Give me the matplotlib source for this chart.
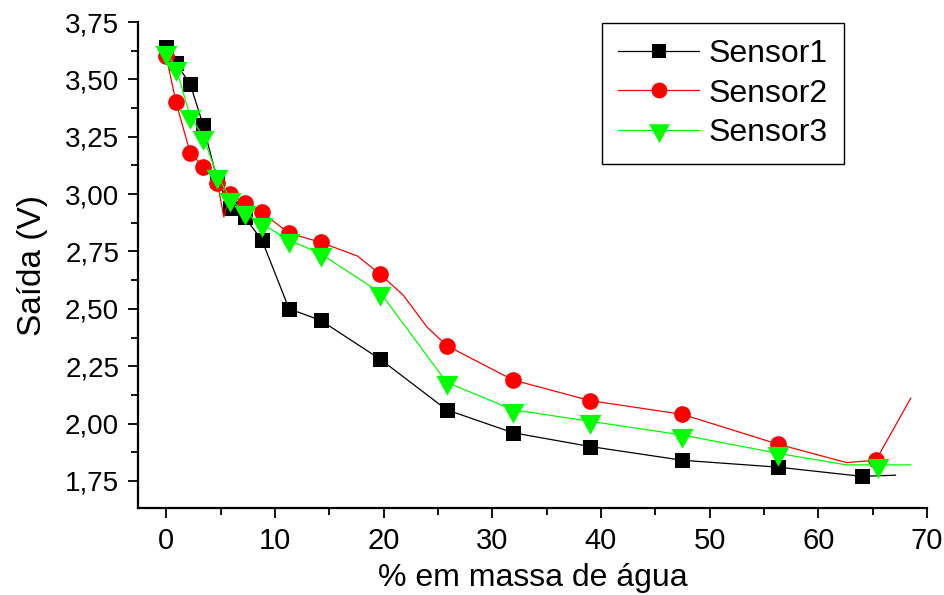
import numpy as np
import matplotlib
matplotlib.use("Agg")
import matplotlib.pyplot as plt
from matplotlib.path import Path
from matplotlib.ticker import FixedLocator, FuncFormatter

# ---- data ----
x_common = [0, 0.9, 2.2, 3.4, 4.7, 5.9, 7.2, 8.8, 11.3, 14.2, 19.7, 25.8, 31.9, 39.0, 47.5, 56.3]

s1_x = x_common + [64.0]
s1_y = [3.64, 3.57, 3.48, 3.30, 3.06, 2.94, 2.90, 2.80, 2.50, 2.45, 2.28, 2.06, 1.96, 1.90, 1.84, 1.81, 1.77]
s1_extra_x = [67.1]
s1_extra_y = [1.775]

s2_x = x_common + [65.3]
s2_y = [3.60, 3.40, 3.18, 3.12, 3.05, 3.00, 2.96, 2.92, 2.83, 2.79, 2.65, 2.34, 2.19, 2.10, 2.04, 1.91, 1.84]
s2_extra_x = [5.3, 17.6, 21.8, 24.0, 62.6, 68.5]
s2_extra_y = [2.90, 2.73, 2.56, 2.42, 1.83, 2.11]

s3_x = x_common + [65.5]
s3_y = [3.62, 3.55, 3.34, 3.25, 3.08, 2.98, 2.92, 2.87, 2.80, 2.74, 2.57, 2.18, 2.06, 2.01, 1.95, 1.87, 1.82]
s3_extra_x = [62.6, 68.5]
s3_extra_y = [1.82, 1.82]

labels = ["Sensor1", "Sensor2", "Sensor3"]
x_ticks = [0, 10, 20, 30, 40, 50, 60, 70]
y_ticks = [1.75, 2.00, 2.25, 2.50, 2.75, 3.00, 3.25, 3.50, 3.75]


def line_of(xm, ym, xe, ye):
    xs = np.array(list(xm) + list(xe), dtype=float)
    ys = np.array(list(ym) + list(ye), dtype=float)
    order = np.argsort(xs, kind="stable")
    return xs[order], ys[order]


# triangle pointing down, centred on its centroid
tri_down = Path([(-1, 0.6), (1, 0.6), (0, -1.2), (-1, 0.6)],
                [Path.MOVETO, Path.LINETO, Path.LINETO, Path.CLOSEPOLY])

plt.rcParams['font.family'] = ['Liberation Sans', 'DejaVu Sans']

fig = plt.figure(figsize=(9.44, 5.95), dpi=100)
ax = fig.add_axes([138 / 944, 1 - 508 / 595, (927 - 138) / 944, (508 - 22) / 595])

series = [
    (s1_x, s1_y, s1_extra_x, s1_extra_y, "black", "s", 10.8, labels[0]),
    (s2_x, s2_y, s2_extra_x, s2_extra_y, "#ff0000", "o", 12, labels[1]),
    (s3_x, s3_y, s3_extra_x, s3_extra_y, "#00ff00", tri_down, 19, labels[2]),
]

handles = []
for i, (xm, ym, xe, ye, col, mk, ms, lab) in enumerate(series):
    lx, ly = line_of(xm, ym, xe, ye)
    ax.plot(lx, ly, color=col, lw=0.9, zorder=2 + i * 2)
    ax.plot(xm, ym, linestyle="none", marker=mk, markersize=ms, color=col,
            markeredgewidth=0, zorder=3 + i * 2)
    h, = ax.plot([], [], color=col, lw=0.9, marker=mk, markersize=ms * 0.95,
                 markeredgewidth=0, label=lab)
    handles.append(h)

ax.set_xlim(-2.6, 70)
ax.set_ylim(1.632, 3.75)

ax.spines['top'].set_visible(False)
ax.spines['right'].set_visible(False)
for sp in ('left', 'bottom'):
    ax.spines[sp].set_linewidth(1.6)

ax.xaxis.set_major_locator(FixedLocator(x_ticks))
ax.xaxis.set_minor_locator(FixedLocator([5, 15, 25, 35, 45, 55, 65]))
ax.yaxis.set_major_locator(FixedLocator(y_ticks))
ax.yaxis.set_minor_locator(FixedLocator([v + 0.125 for v in y_ticks[:-1]]))
ax.yaxis.set_major_formatter(FuncFormatter(lambda v, p: f"{v:.2f}".replace('.', ',')))
ax.xaxis.set_major_formatter(FuncFormatter(lambda v, p: f"{v:.0f}"))

ax.tick_params(which='major', direction='out', length=7.5, width=1.3)
ax.tick_params(which='minor', direction='out', length=5, width=1.3)
ax.tick_params(axis='y', which='major', labelsize=20, pad=6)
ax.tick_params(axis='x', which='major', labelsize=21, pad=6)

ax.set_xlabel("% em massa de água", fontsize=23)
ax.set_ylabel("Saída (V)", fontsize=24)
ax.xaxis.set_label_coords(0.5, -0.113)
ax.yaxis.set_label_coords(-0.114, 0.5)

leg = ax.legend(handles=handles, loc='upper left',
                bbox_to_anchor=((602 - 138) / 789, (508 - 23) / 486),
                borderaxespad=0, fontsize=23, frameon=True, fancybox=False,
                handlelength=2.55, handletextpad=0.3, labelspacing=0.3,
                borderpad=0.5, numpoints=1)
leg.get_frame().set_edgecolor('black')
leg.get_frame().set_linewidth(1.0)
leg.get_frame().set_alpha(1)

fig.savefig("out.png", dpi=100)
